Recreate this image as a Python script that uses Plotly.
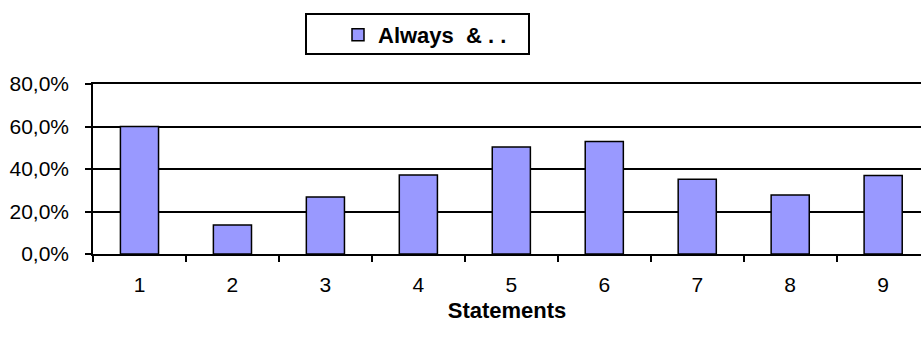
import plotly.graph_objects as go

# Share of respondents per statement
statements = ["1", "2", "3", "4", "5", "6", "7", "8", "9"]
always_share = [0.60, 0.136, 0.268, 0.372, 0.504, 0.53, 0.352, 0.278, 0.37]
series_name = "Always\u00a0\u00a0&\u00a0.\u00a0."
y_ticks = [0, 0.2, 0.4, 0.6, 0.8]

W, H = 921, 338
ML, MR, MT, MB = 93, 0, 84, 84
plot_w = W - ML - MR
plot_h = H - MT - MB
slot_px = 92.96  # width of one category slot

FONT = "Arial, Liberation Sans, sans-serif"

fig = go.Figure()
fig.add_trace(go.Bar(
    x=statements,
    y=always_share,
    name=series_name,
    marker=dict(color="#9999FF", line=dict(color="black", width=1.5)),
    showlegend=True,
))

def px_to_paper_x(px):
    return (px - ML) / plot_w

def px_to_paper_y(py):
    return (H - MB - py) / plot_h

fig.update_layout(
    width=W,
    height=H,
    margin=dict(l=ML, r=MR, t=MT, b=MB, pad=0),
    paper_bgcolor="white",
    plot_bgcolor="white",
    separators=",.",
    bargap=0.59,
    font=dict(family=FONT, size=21, color="black"),
    showlegend=True,
    legend=dict(
        orientation="h",
        x=px_to_paper_x(338),
        y=px_to_paper_y(14),
        xanchor="left",
        yanchor="top",
        bgcolor="rgba(0,0,0,0)",
        borderwidth=0,
        font=dict(family=FONT, size=22, color="black", weight="bold"),
        itemwidth=30,
    ),
    shapes=[dict(
        type="rect", xref="paper", yref="paper",
        x0=px_to_paper_x(306), x1=px_to_paper_x(529),
        y0=px_to_paper_y(54), y1=px_to_paper_y(14),
        line=dict(color="black", width=2),
        fillcolor="rgba(0,0,0,0)",
        layer="below",
    )],
)

fig.update_xaxes(
    type="category",
    range=[-0.5, -0.5 + plot_w / slot_px],
    showline=True, linecolor="black", linewidth=1.5, mirror=True,
    ticks="outside", tickson="boundaries", ticklen=6, tickwidth=1.5, tickcolor="black",
    showgrid=False,
    automargin=False,
    tickfont=dict(family=FONT, size=21, color="black"),
    ticklabelstandoff=11,
    title=dict(text="<b>Statements</b>", font=dict(family=FONT, size=22, color="black"), standoff=8),
)

fig.update_yaxes(
    range=[0, 0.8],
    tickvals=y_ticks,
    tickformat=".1%",
    showline=True, linecolor="black", linewidth=1.5,
    ticks="outside", ticklen=6, tickwidth=1.5, tickcolor="black",
    showgrid=True, gridcolor="black", gridwidth=1.5,
    zeroline=False,
    automargin=False,
    tickfont=dict(family=FONT, size=21, color="black"),
    ticklabelstandoff=12,
)

fig.write_html("out.html")
